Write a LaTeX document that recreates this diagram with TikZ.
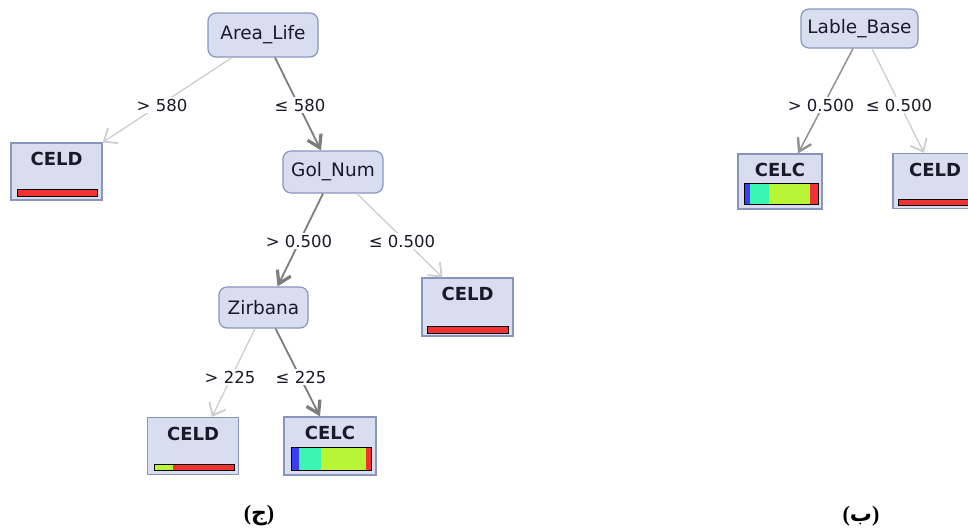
\documentclass[tikz,border=0pt]{standalone}
\usepackage{fontspec}
\setmainfont{DejaVu Sans}
\newfontfamily\arabicfont[Script=Arabic]{DejaVu Sans}
\newfontfamily\capserif{Liberation Serif}
\TeXXeTstate=1
\usetikzlibrary{arrows.meta}
\definecolor{nodefill}{RGB}{216,222,240}
\definecolor{nodedraw}{RGB}{136,150,190}
\definecolor{darkedge}{RGB}{125,125,125}
\definecolor{midedge}{RGB}{145,145,145}
\definecolor{lightedge}{RGB}{205,205,205}
\definecolor{barblue}{RGB}{60,60,245}
\definecolor{barcyan}{RGB}{60,245,180}
\definecolor{barlime}{RGB}{185,245,55}
\definecolor{barred}{RGB}{240,50,50}
\definecolor{txt}{RGB}{25,25,40}
\tikzset{
  split/.style={draw=nodedraw, fill=nodefill, rounded corners=8pt, line width=1.2pt,
    inner sep=0pt, font=\fontsize{18.5}{21}\selectfont, text=txt},
  leaf/.style={draw=nodedraw, fill=nodefill, line width=1.2pt, inner sep=0pt},
  leaftext/.style={anchor=north, inner sep=0pt, yshift=-10pt,
    font=\bfseries\fontsize{18}{20}\selectfont, text=txt},
  cond/.style={fill=white, inner sep=1.5pt, font=\fontsize{16.5}{18}\selectfont, text=txt},
  major/.style={draw=darkedge, line width=1.8pt,
    -{Straight Barb[length=12pt,width=15pt,line width=3.2pt]}},
  medium/.style={draw=midedge, line width=1.5pt,
    -{Straight Barb[length=12pt,width=15pt,line width=2.4pt]}},
  minor/.style={draw=lightedge, line width=1.3pt,
    -{Straight Barb[length=11pt,width=18pt,line width=1.8pt]}},
  barframe/.style={draw=black, line width=1pt},
  caption/.style={font=\bfseries\fontsize{22}{24}\selectfont, text=black}
}
\begin{document}
\begin{tikzpicture}[x=1pt, y=-1pt]
\useasboundingbox (0,0) rectangle (968,530);
\clip (0,0) rectangle (968,530);

% split nodes
\node[split, minimum width=110pt, minimum height=44pt] (AL) at (263,35) {Area\_Life};
\node[split, minimum width=100pt, minimum height=42pt] (GN) at (333,172) {Gol\_Num};
\node[split, minimum width=89pt, minimum height=41pt] (ZB) at (263.5,307.5) {Zirbana};
\node[split, minimum width=117pt, minimum height=39pt] (LB) at (859.5,28.5) {Lable\_Base};

% leaf nodes
\node[leaf, minimum width=91pt, minimum height=57pt,
  label={[leaftext]north:CELD}] (L1) at (56.5,171.5) {};
\node[leaf, minimum width=91pt, minimum height=58pt,
  label={[leaftext]north:CELD}] (R1) at (467.5,307) {};
\node[leaf, minimum width=91pt, minimum height=57pt,
  label={[leaftext]north:CELD}] (BL) at (193,446) {};
\node[leaf, minimum width=92pt, minimum height=58pt,
  label={[leaftext]north:CELC}] (CC) at (330,446) {};
\node[leaf, minimum width=84pt, minimum height=55pt,
  label={[leaftext]north:CELC}] (RC) at (780,181.5) {};
\node[leaf, minimum width=84pt, minimum height=55pt,
  label={[leaftext]north:CELD}] (RD) at (935,181) {};

% class distribution bars
\fill[barred] (17,189) rectangle (97,196);
\draw[barframe] (17,189) rectangle (97,196);

\fill[barred] (427,326) rectangle (508,333);
\draw[barframe] (427,326) rectangle (508,333);

\fill[barlime] (154,464) rectangle (173,470);
\fill[barred] (173,464) rectangle (234,470);
\draw[barframe] (154,464) rectangle (234,470);

\fill[barblue] (291,447) rectangle (299,470);
\fill[barcyan] (299,447) rectangle (321,470);
\fill[barlime] (321,447) rectangle (366,470);
\fill[barred] (366,447) rectangle (371,470);
\draw[barframe] (291,447) rectangle (371,470);

\fill[barblue] (744,183) rectangle (750,204);
\fill[barcyan] (750,183) rectangle (769,204);
\fill[barlime] (769,183) rectangle (810,204);
\fill[barred] (810,183) rectangle (818,204);
\draw[barframe] (744,183) rectangle (818,204);

\fill[barred] (898,199) rectangle (975,205);
\draw[barframe] (898,199) rectangle (975,205);

% connectors
\draw[minor] ([xshift=-31pt]AL.south) -- (L1.north east);
\draw[major] ([xshift=12pt]AL.south) -- ([xshift=-12pt]GN.north);
\draw[major] ([xshift=-10pt]GN.south) -- ([xshift=14pt]ZB.north);
\draw[minor] ([xshift=24pt]GN.south) -- ([xshift=-25pt]R1.north);
\draw[minor] ([xshift=-8.5pt]ZB.south) -- ([xshift=19pt]BL.north);
\draw[major] ([xshift=12pt]ZB.south) -- ([xshift=-10pt]CC.north);
\draw[medium] ([xshift=-6.5pt]LB.south) -- ([xshift=18pt]RC.north);
\draw[minor] ([xshift=12.5pt]LB.south) -- ([xshift=-11pt]RD.north);

% conditions
\node[cond] (c1) at (162,105) {> 580};
\node[cond] (c2) at (300,105) {≤ 580};
\node[cond] (c3) at (299,241) {> 0.500};
\node[cond] (c4) at (402,241) {≤ 0.500};
\node[cond] (c5) at (230,377) {> 225};
\node[cond] (c6) at (301,377) {≤ 225};
\node[cond] (c7) at (821,105) {> 0.500};
\node[cond] (c8) at (899,105) {≤ 0.500};

% captions
\node[caption] (capj) at (259,516) {\capserif(\arabicfont\beginR ج\endR\capserif)};
\node[caption] (capb) at (861,516) {\capserif(\arabicfont\beginR ب\endR\capserif)};
\end{tikzpicture}
\end{document}
